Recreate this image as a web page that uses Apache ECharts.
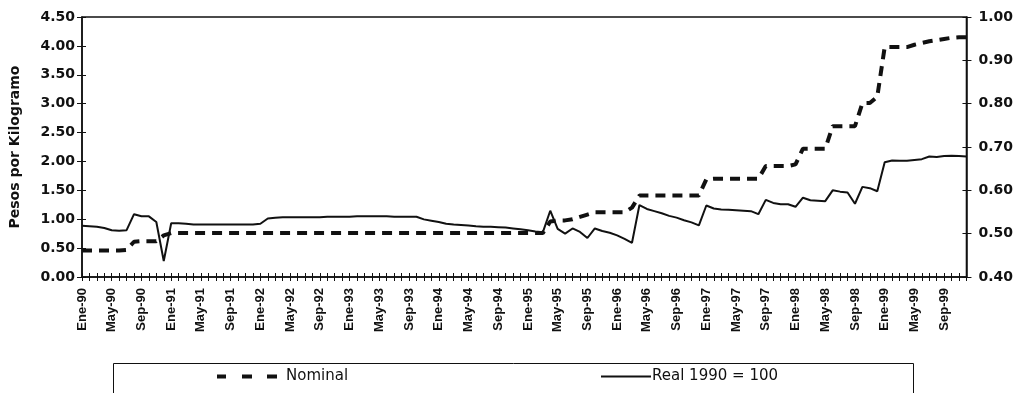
<!DOCTYPE html>
<html>
<head>
<meta charset="utf-8">
<script src="https://cdn.jsdelivr.net/npm/echarts@6/dist/echarts.min.js"></script>
<style>html,body{margin:0;padding:0;background:#fff}#c{width:1016px;height:393px}</style>
</head>
<body>
<div id="c"></div>
<script>
// Month abbreviations and years used for category labels
var months = ['Ene','Feb','Mar','Abr','May','Jun','Jul','Ago','Sep','Oct','Nov','Dic'];
var years = ['90','91','92','93','94','95','96','97','98','99'];

// Nominal price (left axis, pesos por kilogramo), monthly Ene-90 .. Dic-99
var nominal = [
  0.46,0.46,0.46,0.46,0.46,0.46,0.47,0.61,0.62,0.62,0.62,0.72,
  0.76,0.76,0.76,0.76,0.76,0.76,0.76,0.76,0.76,0.76,0.76,0.76,
  0.76,0.76,0.76,0.76,0.76,0.76,0.76,0.76,0.76,0.76,0.76,0.76,
  0.76,0.76,0.76,0.76,0.76,0.76,0.76,0.76,0.76,0.76,0.76,0.76,
  0.76,0.76,0.76,0.76,0.76,0.76,0.76,0.76,0.76,0.76,0.76,0.76,
  0.76,0.76,0.76,0.96,0.98,0.98,1.00,1.04,1.08,1.12,1.12,1.12,
  1.12,1.12,1.20,1.41,1.41,1.41,1.41,1.41,1.41,1.41,1.41,1.41,
  1.69,1.70,1.70,1.70,1.70,1.70,1.70,1.70,1.92,1.92,1.92,1.92,
  1.95,2.22,2.22,2.22,2.22,2.61,2.61,2.61,2.61,3.01,3.01,3.12,
  3.98,3.98,3.98,3.98,4.02,4.05,4.08,4.10,4.12,4.14,4.15,4.15
];

// Real price, 1990 = 100 (right axis)
var real = [
  0.518,0.517,0.516,0.513,0.508,0.507,0.508,0.545,0.540,0.540,0.527,0.437,
  0.524,0.524,0.523,0.521,0.521,0.521,0.521,0.521,0.521,0.521,0.521,0.521,
  0.523,0.535,0.537,0.538,0.538,0.538,0.538,0.538,0.538,0.539,0.539,0.539,
  0.539,0.540,0.540,0.540,0.540,0.540,0.539,0.539,0.539,0.539,0.533,0.530,
  0.527,0.523,0.521,0.520,0.519,0.517,0.516,0.516,0.515,0.514,0.512,0.510,
  0.508,0.505,0.503,0.553,0.511,0.500,0.512,0.504,0.490,0.512,0.506,0.502,
  0.496,0.488,0.479,0.566,0.557,0.552,0.547,0.541,0.537,0.531,0.526,0.519,
  0.565,0.558,0.556,0.555,0.554,0.553,0.552,0.545,0.578,0.571,0.568,0.568,
  0.562,0.583,0.577,0.576,0.575,0.600,0.597,0.595,0.569,0.608,0.605,0.598,
  0.665,0.669,0.668,0.668,0.670,0.672,0.678,0.677,0.679,0.680,0.679,0.678
];

var leftTicks = {min: 0, max: 4.5, interval: 0.5};
var rightTicks = {min: 0.4, max: 1.0, interval: 0.1};
var seriesNames = ['Nominal', 'Real 1990 = 100'];
var yAxisName = 'Pesos por Kilogramo';

var categories = [];
years.forEach(function (y) { months.forEach(function (m) { categories.push(m + '-' + y); }); });

var chart = echarts.init(document.getElementById('c'), null, {renderer: 'canvas'});
var black = '#111';

chart.setOption({
  animation: false,
  backgroundColor: '#fff',
  grid: {left: 80, right: 46, top: 17, bottom: 116, show: true, borderColor: black, borderWidth: 1.5, backgroundColor: 'transparent'},
  xAxis: [{
    type: 'category', data: categories, boundaryGap: false, position: 'bottom',
    axisLine: {lineStyle: {color: black, width: 1.5}},
    axisTick: {show: true, interval: 0, length: 4, lineStyle: {color: black, width: 1}},
    axisLabel: {interval: 3, rotate: 90, margin: 11, color: black, fontFamily: 'Liberation Sans', fontWeight: 'bold', fontSize: 13},
    splitLine: {show: false}
  }, {
    type: 'category', data: categories, boundaryGap: false, position: 'bottom',
    axisLine: {show: false},
    axisTick: {show: true, inside: true, interval: 0, length: 4, lineStyle: {color: black, width: 1}},
    axisLabel: {show: false}, splitLine: {show: false}
  }],
  yAxis: [{
    type: 'value', position: 'left', min: leftTicks.min, max: leftTicks.max, interval: leftTicks.interval,
    name: yAxisName, nameLocation: 'middle', nameGap: 60,
    nameTextStyle: {color: black, fontFamily: 'DejaVu Sans', fontWeight: 'bold', fontSize: 14},
    axisLine: {show: true, lineStyle: {color: black, width: 1.5}},
    axisTick: {show: true, length: 5, lineStyle: {color: black, width: 1}},
    axisLabel: {margin: 7, color: black, fontFamily: 'DejaVu Sans', fontWeight: 'bold', fontSize: 14,
      formatter: function (v) { return v.toFixed(2); }},
    splitLine: {show: false}
  }, {
    type: 'value', position: 'right', min: rightTicks.min, max: rightTicks.max, interval: rightTicks.interval,
    axisLine: {show: true, lineStyle: {color: black, width: 1.5}},
    axisTick: {show: true, length: 5, lineStyle: {color: black, width: 1}},
    axisLabel: {margin: 12, color: black, fontFamily: 'DejaVu Sans', fontWeight: 'bold', fontSize: 14,
      formatter: function (v) { return v.toFixed(2); }},
    splitLine: {show: false}
  }, {
    type: 'value', position: 'left', min: leftTicks.min, max: leftTicks.max, interval: leftTicks.interval,
    axisLine: {show: false}, axisLabel: {show: false}, splitLine: {show: false},
    axisTick: {show: true, inside: true, length: 4, lineStyle: {color: black, width: 1}}
  }, {
    type: 'value', position: 'right', min: rightTicks.min, max: rightTicks.max, interval: rightTicks.interval,
    axisLine: {show: false}, axisLabel: {show: false}, splitLine: {show: false},
    axisTick: {show: true, inside: true, length: 4, lineStyle: {color: black, width: 1}}
  }],
  legend: [{
    data: [{name: seriesNames[0], icon: 'path://M0,0h9v4h-9z M25,0h10v4h-10z M50,0h10v4h-10z'}],
    left: 212, top: 364, itemWidth: 60, itemHeight: 4, itemGap: 8,
    textStyle: {color: black, fontFamily: 'DejaVu Sans', fontSize: 15, padding: [0, 0, 0, 4]}
  }, {
    data: [{name: seriesNames[1], icon: 'path://M0,0h50v2h-50z'}],
    left: 596, top: 364, itemWidth: 50, itemHeight: 2, itemGap: 8,
    textStyle: {color: black, fontFamily: 'DejaVu Sans', fontSize: 15, padding: [0, 0, 0, -4]}
  }],
  graphic: [{
    type: 'rect', left: 111, top: 361, shape: {width: 800, height: 60},
    style: {fill: 'none', stroke: black, lineWidth: 1}, silent: true, z: 0
  }],
  series: [{
    name: seriesNames[0], type: 'line', xAxisIndex: 0, yAxisIndex: 0, data: nominal,
    showSymbol: false, symbol: 'none', smooth: false,
    lineStyle: {color: black, width: 4, type: [10, 7], cap: 'butt'},
    itemStyle: {color: black}, z: 3
  }, {
    name: seriesNames[1], type: 'line', xAxisIndex: 0, yAxisIndex: 1, data: real,
    showSymbol: false, symbol: 'none', smooth: false,
    lineStyle: {color: black, width: 2, type: 'solid'},
    itemStyle: {color: black}, z: 4
  }]
});
</script>
</body>
</html>
